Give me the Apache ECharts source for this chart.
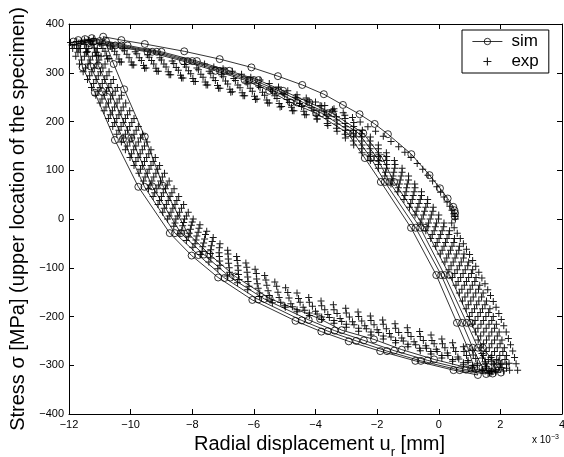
<!DOCTYPE html>
<html><head><meta charset="utf-8">
<script src="https://cdn.jsdelivr.net/npm/echarts@6/dist/echarts.min.js"></script>
<style>html,body{margin:0;padding:0;background:#fff}#c{width:564px;height:457px}</style>
</head><body><div id="c"></div>
<script>
// axis ranges (x in units of 1e-3 mm)
const xRange = [-12, 4, 2];
const yRange = [-400, 400, 100];
const xUnitNote = 'x 10';
const xUnitExp = '\u22123';
const seriesNames = ['sim', 'exp'];

// ---- simulation (line with circles), in drawing order ----
const simFirstLoading = [[0.52,5],[0.53,12],[0.51,18],[0.47,25],[0.29,42],[0.04,63],[-0.3,90],[-0.89,133],[-1.65,174],[-2.08,195],[-2.57,215],[-3.11,234],[-3.73,256],[-4.43,275],[-5.22,293],[-6.08,311],[-7.11,328],[-8.26,344],[-9.54,359],[-10.3,367],[-10.89,374]];
const simDown1 = [[-10.55,318],[-10.21,266],[-9.54,169],[-8.95,68],[-8.15,-29],[-7.45,-72],[-6.6,-118],[-5.49,-163],[-3.85,-205],[-3.15,-228],[-2.1,-247],[-1.2,-268],[-0.15,-288],[1.05,-307],[1.7,-313],[2.02,-315]];
const simUp1 = [[1.9,-302],[1.43,-264],[1.05,-213],[0.35,-115],[-0.45,-18],[-1.45,76],[-1.83,125],[-2.45,176],[-3.45,217],[-4.2,239],[-5.05,263],[-5.85,285],[-6.8,304],[-7.85,324],[-9.0,343],[-10.1,356],[-10.8,365]];
const simDown2 = [[-11.26,371],[-11.05,315],[-10.68,263],[-9.98,166],[-9.3,67],[-8.37,-29],[-7.62,-73],[-6.76,-120],[-5.66,-164],[-4.22,-207],[-3.38,-229],[-2.43,-249],[-1.45,-270],[-0.36,-290],[0.88,-309],[1.75,-317]];
const simUp2 = [[1.62,-304],[1.27,-264],[0.91,-213],[0.19,-115],[-0.6,-18],[-1.6,76],[-2.0,125],[-2.6,176],[-3.6,217],[-4.4,239],[-5.2,263],[-6.0,285],[-6.95,304],[-8.0,324],[-9.15,343],[-10.3,356],[-11.0,365]];
const simDown3 = [[-11.48,369],[-11.3,313],[-10.92,261],[-10.25,164],[-9.55,66],[-8.56,-29],[-7.8,-74],[-6.95,-121],[-5.86,-165],[-4.45,-208],[-3.6,-230],[-2.68,-250],[-1.68,-271],[-0.58,-291],[0.68,-310],[1.54,-318]];
const simUp3 = [[1.42,-305],[1.1,-264],[0.76,-213],[0.08,-115],[-0.75,-18],[-1.75,76],[-2.2,125],[-2.78,176],[-3.8,217],[-4.6,239],[-5.35,263],[-6.15,285],[-7.1,304],[-8.15,324],[-9.3,343],[-10.5,356],[-11.2,364]];
const simDown4 = [[-11.7,367],[-11.56,311],[-11.16,259],[-10.51,162],[-9.75,66],[-8.73,-29],[-8.02,-75],[-7.16,-120],[-6.05,-166],[-4.65,-209],[-3.81,-231],[-2.92,-251],[-1.9,-271],[-0.76,-291],[0.48,-310],[1.27,-320]];
const simUp4 = [[1.15,-306],[0.94,-264],[0.59,-213],[-0.08,-115],[-0.9,-18],[-1.88,76],[-2.4,125],[-2.95,176],[-3.98,217],[-4.8,239],[-5.5,263],[-6.3,285],[-7.25,304],[-8.3,324],[-9.45,343],[-10.65,355],[-11.35,361],[-11.86,364]];

// ---- experiment (+ markers) ----
const expFirstLoading = [[-7.6,318],[-7.3,312],[-7.0,308],[-6.7,303],[-6.4,297],[-6.1,291],[-5.8,285],[-5.5,278],[-5.2,271],[-4.9,263],[-4.6,255],[-4.3,248],[-4.0,240],[-3.7,233],[-3.4,226],[-3.1,218],[-2.8,208],[-2.55,199],[-2.3,189],[-2.05,180],[-1.8,170],[-1.55,159],[-1.3,148],[-1.1,137],[-0.9,126],[-0.7,114],[-0.52,102],[-0.35,90],[-0.2,78],[-0.06,66],[0.06,55],[0.17,45],[0.27,35],[0.36,26],[0.43,18],[0.49,11],[0.52,5],[0.54,0]];
const expOuterRight = [[0.42,-8],[0.5,-18],[0.6,-29],[0.7,-40],[0.8,-51],[0.9,-62],[1.0,-73],[1.1,-85],[1.2,-97],[1.3,-109],[1.4,-121],[1.5,-133],[1.59,-145],[1.68,-157],[1.77,-169],[1.86,-181],[1.95,-194],[2.03,-206],[2.11,-219],[2.19,-232],[2.26,-245],[2.33,-258],[2.4,-271],[2.46,-284],[2.51,-297],[2.56,-310]];
const expDownA = [[-11.95,362],[-11.88,350],[-11.78,334],[-11.66,318],[-11.54,302],[-11.4,286],[-11.27,270],[-11.13,254],[-10.99,238],[-10.86,222],[-10.72,206],[-10.58,190],[-10.45,174],[-10.3,158],[-10.17,142],[-10.02,126],[-9.89,110],[-9.73,94],[-9.58,78],[-9.42,62],[-9.27,46],[-9.11,30],[-8.96,14],[-8.8,0],[-8.6,-15],[-8.4,-30],[-8.19,-44],[-7.98,-58],[-7.74,-73],[-7.46,-88],[-7.17,-102],[-6.86,-117],[-6.53,-131],[-6.2,-145],[-5.82,-159],[-5.4,-172],[-4.98,-181],[-4.6,-190],[-4.2,-198],[-3.8,-206],[-3.4,-214],[-3.0,-222],[-2.6,-230],[-2.2,-238],[-1.8,-246],[-1.4,-254],[-1.0,-262],[-0.6,-270],[-0.25,-277],[0.1,-285],[0.45,-292],[0.8,-299],[1.1,-305],[1.4,-311],[1.65,-316]];
const expDownB = [[-11.75,364],[-11.63,350],[-11.5,334],[-11.38,318],[-11.26,302],[-11.12,286],[-10.99,270],[-10.86,254],[-10.72,238],[-10.59,222],[-10.45,206],[-10.31,190],[-10.17,174],[-10.03,158],[-9.9,142],[-9.76,126],[-9.62,110],[-9.46,94],[-9.31,78],[-9.15,62],[-9.0,46],[-8.84,30],[-8.69,14],[-8.53,0],[-8.31,-14],[-8.1,-29],[-7.88,-43],[-7.66,-57],[-7.41,-71],[-7.11,-86],[-6.8,-100],[-6.5,-114],[-6.19,-128],[-5.86,-142],[-5.5,-157],[-5.13,-171],[-4.75,-180],[-4.35,-187],[-3.95,-195],[-3.55,-202],[-3.15,-210],[-2.75,-217],[-2.35,-225],[-1.95,-233],[-1.55,-242],[-1.15,-250],[-0.75,-258],[-0.4,-265],[-0.05,-272],[0.3,-280],[0.65,-287],[0.95,-294],[1.25,-300],[1.55,-306],[1.85,-312]];
const expDownC = [[-11.5,367],[-11.36,350],[-11.24,334],[-11.1,318],[-10.98,302],[-10.84,286],[-10.71,270],[-10.58,254],[-10.44,238],[-10.31,222],[-10.17,206],[-10.03,190],[-9.89,174],[-9.75,158],[-9.62,142],[-9.48,126],[-9.34,110],[-9.18,94],[-9.03,78],[-8.87,62],[-8.72,46],[-8.56,30],[-8.41,14],[-8.25,0],[-8.03,-13],[-7.81,-27],[-7.6,-41],[-7.38,-55],[-7.13,-69],[-6.83,-82],[-6.52,-96],[-6.22,-109],[-5.91,-123],[-5.58,-136],[-5.22,-150],[-4.86,-162],[-4.5,-171],[-4.1,-179],[-3.7,-186],[-3.3,-194],[-2.9,-201],[-2.5,-209],[-2.1,-217],[-1.7,-225],[-1.3,-233],[-0.9,-241],[-0.5,-249],[-0.15,-256],[0.2,-264],[0.55,-272],[0.9,-280],[1.2,-286],[1.5,-293],[1.8,-299],[2.05,-305]];
const expDownD = [[-11.2,369],[-11.08,350],[-10.96,334],[-10.83,318],[-10.7,302],[-10.56,286],[-10.43,270],[-10.3,254],[-10.16,238],[-10.03,222],[-9.89,206],[-9.75,190],[-9.61,174],[-9.47,158],[-9.34,142],[-9.2,126],[-9.06,110],[-8.9,94],[-8.75,78],[-8.59,62],[-8.44,46],[-8.28,30],[-8.13,14],[-7.97,0],[-7.75,-12],[-7.53,-25],[-7.32,-38],[-7.1,-51],[-6.85,-64],[-6.56,-77],[-6.26,-90],[-5.96,-103],[-5.65,-116],[-5.32,-129],[-4.97,-141],[-4.6,-152],[-4.22,-161],[-3.82,-168],[-3.42,-176],[-3.02,-183],[-2.62,-191],[-2.22,-199],[-1.82,-207],[-1.42,-215],[-1.02,-223],[-0.62,-231],[-0.25,-238],[0.1,-246],[0.45,-254],[0.8,-262],[1.1,-269],[1.4,-276],[1.7,-284],[1.95,-291],[2.2,-298]];
const expDownE = [[-11.83,358],[-11.71,342],[-11.59,326],[-11.46,310],[-11.33,294],[-11.2,278],[-11.06,262],[-10.93,246],[-10.8,230],[-10.66,214],[-10.52,198],[-10.38,182],[-10.24,166],[-10.11,150],[-9.97,134],[-9.83,118],[-9.68,102],[-9.53,86],[-9.37,70],[-9.22,54],[-9.06,38],[-8.91,22],[-8.75,6],[-8.56,-8],[-8.34,-23],[-8.13,-37],[-7.91,-51],[-7.68,-66],[-7.4,-80],[-7.1,-95],[-6.79,-109],[-6.48,-124],[-6.16,-138],[-5.81,-152],[-5.44,-166],[-5.0,-178],[-4.6,-186],[-4.2,-193],[-3.8,-201],[-3.4,-208],[-3.0,-216],[-2.6,-224],[-2.2,-232],[-1.8,-240],[-1.4,-249],[-1.0,-257],[-0.62,-265],[-0.26,-272],[0.1,-280],[0.45,-288],[0.8,-295],[1.1,-301],[1.42,-308],[1.7,-313]];
const expDownF = [[-11.62,360],[-11.43,342],[-11.31,326],[-11.18,310],[-11.05,294],[-10.92,278],[-10.78,262],[-10.65,246],[-10.52,230],[-10.38,214],[-10.24,198],[-10.1,182],[-9.96,166],[-9.83,150],[-9.69,134],[-9.55,118],[-9.4,102],[-9.25,86],[-9.09,70],[-8.94,54],[-8.78,38],[-8.63,22],[-8.47,6],[-8.28,-7],[-8.06,-21],[-7.85,-35],[-7.63,-49],[-7.4,-63],[-7.12,-77],[-6.82,-91],[-6.51,-105],[-6.2,-119],[-5.89,-133],[-5.54,-147],[-5.18,-161],[-4.8,-174],[-4.4,-181],[-4.0,-189],[-3.6,-196],[-3.2,-204],[-2.8,-211],[-2.4,-219],[-2.0,-227],[-1.6,-235],[-1.2,-244],[-0.8,-252],[-0.42,-260],[-0.08,-267],[0.28,-275],[0.62,-283],[0.95,-290],[1.25,-296],[1.55,-303],[1.85,-309]];
const expDownG = [[-11.35,366],[-11.15,342],[-11.03,326],[-10.9,310],[-10.77,294],[-10.64,278],[-10.5,262],[-10.37,246],[-10.24,230],[-10.1,214],[-9.96,198],[-9.82,182],[-9.68,166],[-9.55,150],[-9.41,134],[-9.27,118],[-9.12,102],[-8.97,86],[-8.81,70],[-8.66,54],[-8.5,38],[-8.35,22],[-8.19,6],[-8.0,-6],[-7.78,-19],[-7.57,-32],[-7.35,-46],[-7.12,-59],[-6.84,-72],[-6.54,-85],[-6.23,-99],[-5.92,-112],[-5.61,-125],[-5.26,-138],[-4.9,-151],[-4.55,-163],[-4.2,-171],[-3.8,-178],[-3.4,-186],[-3.0,-193],[-2.6,-200],[-2.2,-208],[-1.8,-216],[-1.4,-224],[-1.0,-233],[-0.6,-241],[-0.22,-249],[0.12,-256],[0.48,-264],[0.82,-272],[1.12,-279],[1.42,-285],[1.72,-292],[2.0,-298]];
const expUpA = [[2.3,-310],[2.28,-296],[2.2,-280],[2.13,-264],[2.05,-248],[1.96,-232],[1.87,-216],[1.77,-200],[1.66,-184],[1.55,-168],[1.44,-152],[1.33,-136],[1.21,-120],[1.1,-104],[0.97,-88],[0.82,-72],[0.67,-56],[0.51,-40],[0.35,-24],[0.17,-8],[0.0,8],[-0.18,24],[-0.36,40],[-0.56,56],[-0.78,72],[-0.98,88],[-1.19,104],[-1.44,120],[-1.7,136],[-1.96,152],[-2.22,168],[-2.48,182],[-2.76,198],[-3.05,213],[-3.45,224],[-3.85,233],[-4.25,242],[-4.65,250],[-5.05,258],[-5.45,266],[-5.85,273],[-6.25,281],[-6.65,288],[-7.05,296],[-7.45,303],[-7.85,310],[-8.25,317],[-8.65,324],[-9.05,331],[-9.45,337],[-9.85,343],[-10.25,349],[-10.65,355],[-11.0,360],[-11.35,366]];
const expUpB = [[2.1,-312],[2.05,-296],[1.98,-280],[1.9,-264],[1.81,-248],[1.72,-232],[1.63,-216],[1.53,-200],[1.42,-184],[1.3,-168],[1.2,-152],[1.09,-136],[0.97,-120],[0.86,-104],[0.73,-88],[0.58,-72],[0.43,-56],[0.27,-40],[0.11,-24],[-0.07,-8],[-0.24,8],[-0.42,24],[-0.6,40],[-0.8,56],[-1.02,72],[-1.22,88],[-1.43,104],[-1.69,120],[-1.96,136],[-2.23,152],[-2.5,168],[-2.77,182],[-3.04,196],[-3.32,210],[-3.72,220],[-4.12,228],[-4.52,237],[-4.92,245],[-5.32,253],[-5.72,260],[-6.12,268],[-6.52,275],[-6.92,283],[-7.32,290],[-7.72,297],[-8.12,304],[-8.52,311],[-8.92,318],[-9.32,325],[-9.72,331],[-10.12,338],[-10.52,344],[-10.9,350],[-11.25,358],[-11.6,364]];
const expUpC = [[1.85,-314],[1.79,-296],[1.72,-280],[1.64,-264],[1.55,-248],[1.46,-232],[1.37,-216],[1.27,-200],[1.16,-184],[1.04,-168],[0.94,-152],[0.83,-136],[0.71,-120],[0.6,-104],[0.47,-88],[0.32,-72],[0.17,-56],[0.01,-40],[-0.15,-24],[-0.33,-8],[-0.5,8],[-0.68,24],[-0.86,40],[-1.06,56],[-1.28,72],[-1.48,88],[-1.69,104],[-1.95,120],[-2.22,136],[-2.49,152],[-2.76,168],[-3.03,182],[-3.3,195],[-3.6,206],[-3.98,213],[-4.38,221],[-4.78,229],[-5.18,237],[-5.58,244],[-5.98,252],[-6.38,259],[-6.78,266],[-7.18,274],[-7.58,281],[-7.98,288],[-8.38,295],[-8.78,302],[-9.18,309],[-9.58,315],[-9.98,322],[-10.38,328],[-10.78,335],[-11.1,342],[-11.45,350],[-11.75,357]];
const expUpD = [[1.6,-316],[1.52,-296],[1.45,-280],[1.37,-264],[1.28,-248],[1.19,-232],[1.1,-216],[1.0,-200],[0.89,-184],[0.77,-168],[0.67,-152],[0.56,-136],[0.44,-120],[0.33,-104],[0.2,-88],[0.05,-72],[-0.1,-56],[-0.26,-40],[-0.42,-24],[-0.6,-8],[-0.77,8],[-0.95,24],[-1.13,40],[-1.33,56],[-1.55,72],[-1.75,88],[-1.96,104],[-2.22,120],[-2.49,136],[-2.76,152],[-3.03,166],[-3.3,180],[-3.6,192],[-3.95,205],[-4.3,214],[-4.7,222],[-5.1,231],[-5.5,238],[-5.9,246],[-6.3,253],[-6.7,261],[-7.1,268],[-7.5,275],[-7.9,282],[-8.3,289],[-8.7,296],[-9.1,303],[-9.5,310],[-9.9,316],[-10.3,322],[-10.7,329],[-11.05,336],[-11.4,343],[-11.7,350],[-11.9,357]];
const expUpE = [[2.2,-306],[2.15,-288],[2.08,-272],[1.99,-256],[1.9,-240],[1.81,-224],[1.72,-208],[1.62,-192],[1.5,-176],[1.39,-160],[1.29,-144],[1.17,-128],[1.06,-112],[0.94,-96],[0.8,-80],[0.65,-64],[0.49,-48],[0.33,-32],[0.16,-16],[-0.01,0],[-0.19,16],[-0.37,32],[-0.56,48],[-0.77,64],[-0.98,80],[-1.19,96],[-1.42,112],[-1.69,128],[-1.96,144],[-2.23,160],[-2.5,175],[-2.76,190],[-3.04,206],[-3.4,221],[-3.8,232],[-4.2,240],[-4.6,248],[-5.0,255],[-5.4,262],[-5.8,270],[-6.2,277],[-6.6,284],[-7.0,292],[-7.4,299],[-7.8,306],[-8.2,312],[-8.6,319],[-9.0,326],[-9.4,332],[-9.8,339],[-10.2,345],[-10.6,351],[-10.95,357],[-11.3,363]];
const expUpF = [[1.96,-304],[1.88,-288],[1.81,-272],[1.72,-256],[1.63,-240],[1.54,-224],[1.45,-208],[1.35,-192],[1.23,-176],[1.12,-160],[1.02,-144],[0.9,-128],[0.79,-112],[0.67,-96],[0.53,-80],[0.38,-64],[0.22,-48],[0.06,-32],[-0.11,-16],[-0.28,0],[-0.46,16],[-0.64,32],[-0.83,48],[-1.04,64],[-1.25,80],[-1.46,96],[-1.69,112],[-1.96,128],[-2.23,144],[-2.5,160],[-2.77,175],[-3.03,189],[-3.31,203],[-3.65,214],[-4.05,223],[-4.45,231],[-4.85,239],[-5.25,247],[-5.65,254],[-6.05,262],[-6.45,269],[-6.85,277],[-7.25,284],[-7.65,291],[-8.05,298],[-8.45,305],[-8.85,312],[-9.25,318],[-9.65,325],[-10.05,331],[-10.45,337],[-10.83,344],[-11.18,351],[-11.5,358]];
const expUpG = [[1.72,-312],[1.61,-288],[1.54,-272],[1.45,-256],[1.36,-240],[1.27,-224],[1.18,-208],[1.08,-192],[0.96,-176],[0.85,-160],[0.75,-144],[0.63,-128],[0.52,-112],[0.4,-96],[0.26,-80],[0.11,-64],[-0.05,-48],[-0.21,-32],[-0.38,-16],[-0.55,0],[-0.73,16],[-0.91,32],[-1.1,48],[-1.31,64],[-1.52,80],[-1.73,96],[-1.96,112],[-2.23,128],[-2.5,144],[-2.77,160],[-3.04,174],[-3.32,186],[-3.62,196],[-3.95,205],[-4.35,214],[-4.75,222],[-5.15,230],[-5.55,238],[-5.95,245],[-6.35,253],[-6.75,260],[-7.15,268],[-7.55,275],[-7.95,282],[-8.35,289],[-8.75,296],[-9.15,303],[-9.55,309],[-9.95,316],[-10.35,322],[-10.75,328],[-11.1,335],[-11.45,342],[-11.75,350]];

const simData = [].concat(simFirstLoading, simDown1, simUp1, simDown2, simUp2, simDown3, simUp3, simDown4, simUp4);
const expData = [].concat(expFirstLoading, expOuterRight,
  expDownA, expUpA, expDownB, expUpB, expDownC, expUpC, expDownD, expUpD,
  expDownE, expUpE, expDownF, expUpF, expDownG, expUpG);

const FONT = 'Liberation Sans, Arial, Helvetica, sans-serif';
const minus = v => String(v).replace('-', '\u2212');
const plusPath = 'path://M3,0h1v3h3v1h-3v3h-1v-3h-3v-1h3z';

const axisCommon = (pos, showLabel) => ({
  type: 'value', position: pos,
  axisLine: { show: true, onZero: false, lineStyle: { color: '#000', width: 1 } },
  axisTick: { show: true, inside: true, length: 5, lineStyle: { color: '#000', width: 1 } },
  axisLabel: { show: showLabel, color: '#000', fontSize: 11, fontFamily: FONT, margin: 5, formatter: minus },
  splitLine: { show: false }
});

const chart = echarts.init(document.getElementById('c'), null, { renderer: 'canvas' });
chart.setOption({
  animation: false,
  backgroundColor: '#fff',
  textStyle: { fontFamily: FONT },
  grid: { left: 69, top: 24, width: 493, height: 390, containLabel: false, outerBoundsMode: 'none' },
  xAxis: [
    Object.assign(axisCommon('bottom', true), {
      min: xRange[0], max: xRange[1], interval: xRange[2],
      name: 'Radial displacement u{sub|r} [mm]', nameLocation: 'middle', nameGap: 18,
      nameTextStyle: { color: '#000', fontSize: 20, fontFamily: FONT, verticalAlign: 'top', padding: [0, 0, 0, 8],
        rich: { sub: { fontSize: 13, verticalAlign: 'bottom', padding: [0,0,-4,0], color: '#000', fontFamily: FONT } } }
    }),
    Object.assign(axisCommon('top', false), { min: xRange[0], max: xRange[1], interval: xRange[2] })
  ],
  yAxis: [
    Object.assign(axisCommon('left', true), {
      min: yRange[0], max: yRange[1], interval: yRange[2],
      name: 'Stress \u03c3 [MPa] (upper location of the specimen)', nameLocation: 'middle', nameGap: 34,
      nameTextStyle: { color: '#000', fontSize: 20, fontFamily: FONT }
    }),
    Object.assign(axisCommon('right', false), { min: yRange[0], max: yRange[1], interval: yRange[2] })
  ],
  legend: {
    left: 462, top: 30, orient: 'vertical',
    backgroundColor: '#fff', borderColor: '#000', borderWidth: 1, borderRadius: 0,
    padding: [3, 10, 3, 10], itemGap: 3, itemWidth: 30, itemHeight: 8,
    lineStyle: { width: 0.8, color: '#000' },
    itemStyle: { borderWidth: 0.8 },
    textStyle: { fontSize: 17, color: '#000', fontFamily: FONT, padding: [0, 0, 0, 4] },
    data: seriesNames
  },
  graphic: [{
    type: 'text', left: 532, top: 434,
    style: { text: xUnitNote + '{sup|' + xUnitExp + '}', fontSize: 10, fill: '#000', fontFamily: FONT,
      rich: { sup: { fontSize: 7, verticalAlign: 'top', padding: [0,0,6,0], fill: '#000' } } }
  }],
  series: [
    {
      name: seriesNames[0], type: 'line', data: simData,
      symbol: 'circle', symbolSize: 7, showAllSymbol: true,
      lineStyle: { color: '#000', width: 0.8 },
      itemStyle: { color: 'rgba(0,0,0,0)', borderColor: '#000', borderWidth: 0.8 },
      emphasis: { disabled: true }, z: 2
    },
    {
      name: seriesNames[1], type: 'scatter', data: expData,
      symbol: plusPath, symbolSize: 7,
      itemStyle: { color: '#000', opacity: 0.9 },
      emphasis: { disabled: true }, z: 3
    }
  ]
});
</script></body></html>
